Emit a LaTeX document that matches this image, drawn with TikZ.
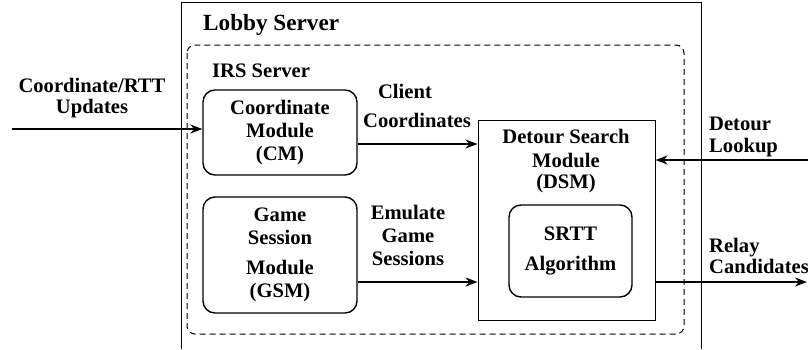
\documentclass[tikz,border=0pt]{standalone}
\usepackage{fontspec}
\setmainfont{Liberation Serif}
\usetikzlibrary{arrows.meta}
\tikzset{
  txt/.style={font=\fontsize{20.6}{23}\selectfont\bfseries, inner sep=0pt, align=center},
  modbox/.style={draw, line width=1.4pt, rounded corners=12pt, inner sep=0pt, align=center,
    font=\fontsize{20.6}{23}\selectfont\bfseries},
  plainbox/.style={draw, line width=1pt, inner sep=0pt},
  arr/.style={line width=1.4pt, -{Stealth[length=12pt,width=9pt]}},
}
\begin{document}
\begin{tikzpicture}[x=1pt,y=-1pt]
\useasboundingbox (0,0) rectangle (808,349);
% outer lobby server frame (open at bottom)
\draw[line width=1pt] (181,349) -- (181,2) -- (701,2) -- (701,349);
\node[txt, anchor=base west, font=\fontsize{23.2}{26}\selectfont\bfseries] (lobby) at (203,30) {Lobby Server};
% IRS server dashed box
\draw[line width=1pt, dash pattern=on 6pt off 4pt, rounded corners=8pt] (187,45) rectangle (684,334);
\node[txt, anchor=base west] (irs) at (212,77) {IRS Server};
% modules
\node[modbox, minimum width=154pt, minimum height=85pt] (cm) at (280,132.5) {Coordinate\\Module\\(CM)};
\node[modbox, minimum width=154pt, minimum height=116pt] (gsm) at (280,255) {Game\\Session\\[7pt]Module\\(GSM)};
\node[plainbox, minimum width=177pt, minimum height=200pt] (dsm) at (566.5,220) {};
\node[txt, anchor=base] (dsmt) at (566,188) {Detour Search\\[1pt]Module\\[-2pt](DSM)};
\node[modbox, minimum width=123pt, minimum height=92pt] (srtt) at (570.5,251) {SRTT\\[7pt]Algorithm};
% external labels
\node[txt, anchor=base] (cu) at (92,113) {Coordinate/RTT\\[-2pt]Updates};
\node[txt, anchor=base] (cc) at (417,127) {Client\hspace*{24pt}\\[6pt]Coordinates};
\node[txt, anchor=base] (eg) at (408,265) {Emulate\\Game\\Sessions};
\node[txt, anchor=base west, align=left] (dl) at (709,152) {Detour\\[-1pt]Lookup};
\node[txt, anchor=base west, align=left] (rc) at (709,273) {Relay\\[-2pt]Candidates};
% connectors
\coordinate (inL) at (12,129);
\coordinate (inR) at (808,160);
\coordinate (outR) at (807,282);
\draw[arr] (inL) -- (inL -| cm.west);
\draw[arr] ([yshift=-11.5pt]cm.east) -- ([yshift=-11.5pt]cm.east -| dsm.west);
\draw[arr] ([yshift=-27pt]gsm.east) -- ([yshift=-27pt]gsm.east -| dsm.west);
\draw[arr] (inR) -- (inR -| dsm.east);
\draw[arr] (outR -| dsm.east) -- (outR);
\end{tikzpicture}
\end{document}
